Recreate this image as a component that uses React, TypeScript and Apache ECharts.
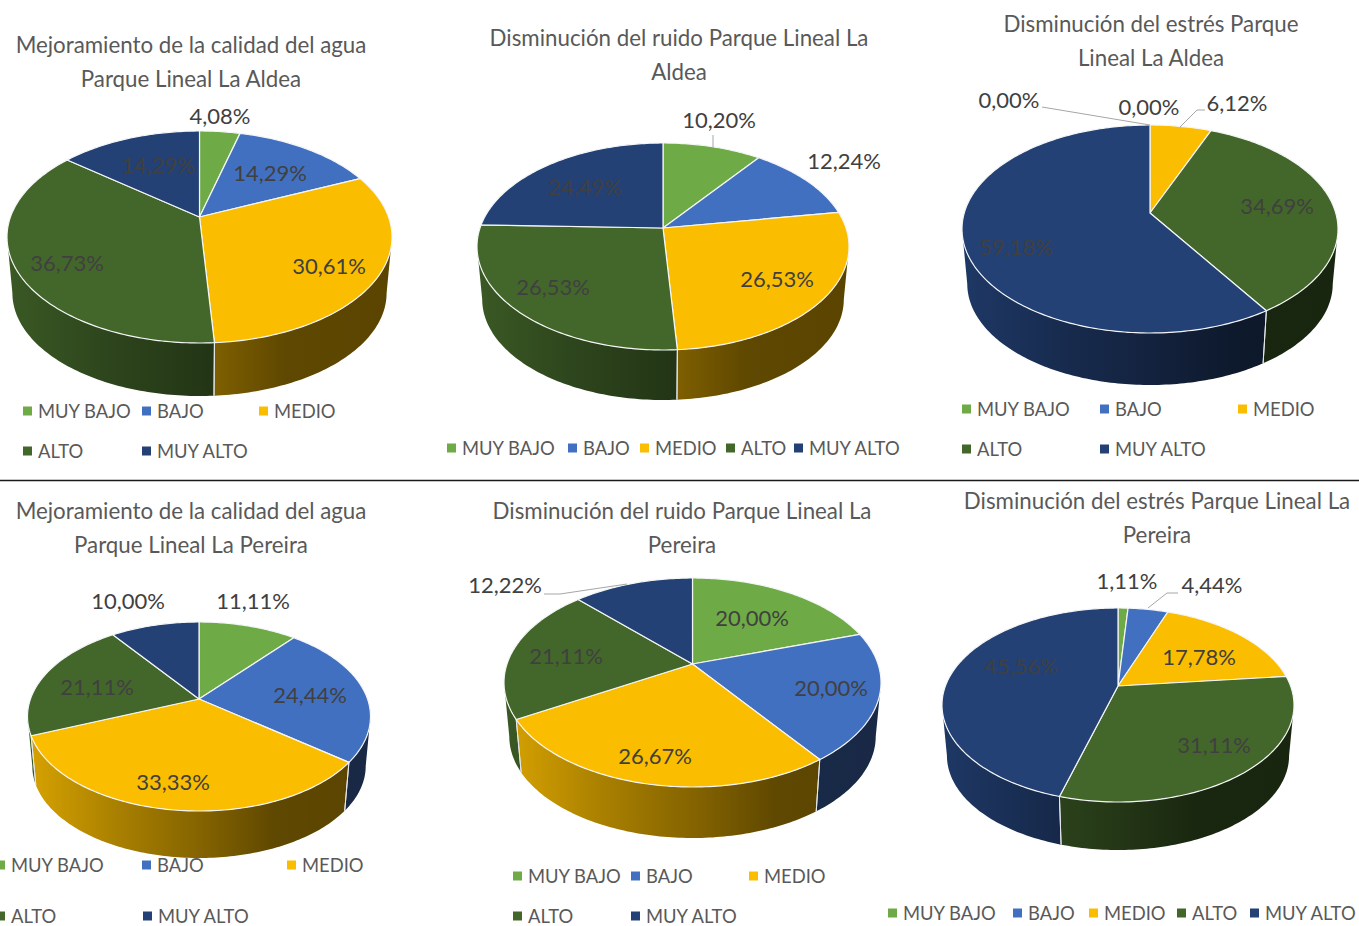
import React, { useEffect, useRef } from "react";
import * as echarts from "echarts";

// ---- data ----
const categories = ["MUY BAJO", "BAJO", "MEDIO", "ALTO", "MUY ALTO"];
const aguaAldea = [4.08, 14.29, 30.61, 36.73, 14.29];
const ruidoAldea = [10.2, 12.24, 26.53, 26.53, 24.49];
const estresAldea = [0, 0, 6.12, 34.69, 59.18];
const aguaPereira = [11.11, 24.44, 33.33, 21.11, 10.0];
const ruidoPereira = [20.0, 20.0, 26.67, 21.11, 12.22];
const estresPereira = [1.11, 4.44, 17.78, 31.11, 45.56];
const titles = [
  "Mejoramiento de la calidad del agua\nParque Lineal La Aldea",
  "Disminución del ruido Parque Lineal La\nAldea",
  "Disminución del estrés Parque\nLineal La Aldea",
  "Mejoramiento de la calidad del agua\nParque Lineal La Pereira",
  "Disminución del ruido Parque Lineal La\nPereira",
  "Disminución del estrés Parque Lineal La\nPereira",
];
const seriesValues = [aguaAldea, ruidoAldea, estresAldea, aguaPereira, ruidoPereira, estresPereira];

// ---- styles and layout ----
const COLORS = [[110, 171, 70], [66, 112, 192], [251, 189, 0], [67, 103, 42], [35, 65, 117]];
const FONT = "Lato";
const TITLE_SIZE = 22.3;
const LABEL_SIZE = 22;
const LEGEND_SIZE = 18.4;
const SHADE = [[0, 0.86], [0.25, 0.68], [0.5, 0.53], [0.72, 0.38], [1, 0.36]];

// projection box of each pie: centre, extents (left/right/top/bottom of the top face), wall height in front
const PIES = [
  { cx: 199.5, cy: 217, rx: 192.5, top: 131, bottom: 343, depth: 53 },
  { cx: 663, cy: 228, rx: 186, top: 143, bottom: 350, depth: 50 },
  { cx: 1150, cy: 213, rx: 188, top: 125, bottom: 333, depth: 52 },
  { cx: 199, cy: 699, rx: 171.5, top: 622, bottom: 811, depth: 47 },
  { cx: 692.5, cy: 664, rx: 188.5, top: 578, bottom: 787, depth: 51 },
  { cx: 1118, cy: 686, rx: 176, top: 608, bottom: 802, depth: 48 },
];
const TITLE_POS = [[191, 27], [679, 20], [1151, 6], [191, 493], [682, 493], [1157, 483]];
const LABEL_POS = [
  [[220, 115], [270, 172], [329, 265], [67, 262], [158, 164]],
  [[719, 119], [844, 160], [777, 278], [553, 286], [585, 186]],
  [[1009, 99], [1149, 106], [1237, 102], [1277, 205], [1016, 246]],
  [[253, 600], [310, 694], [173, 781], [97, 686], [128, 600]],
  [[752, 617], [831, 687], [655, 755], [566, 655], [505, 584]],
  [[1127, 580], [1212, 584], [1199, 656], [1214, 744], [1021, 665]],
];
const LEADERS: any = {
  "1-0": [[713, 135], [713, 148]],
  "2-0": [[1042, 107], [1150, 125]],
  "2-2": [[1205, 110], [1197, 110], [1180, 127]],
  "4-4": [[544, 594], [560, 594], [627, 584]],
  "5-1": [[1178, 593], [1167, 593], [1148, 608]],
};
const LEGEND_POS = [
  [[23, 411], [142, 411], [259, 411], [23, 451], [142, 451]],
  [[447, 448], [568, 448], [640, 448], [726, 448], [794, 448]],
  [[962, 409], [1100, 409], [1238, 409], [962, 449], [1100, 449]],
  [[-4, 865], [142, 865], [287, 865], [-4, 916], [143, 916]],
  [[513, 876], [631, 876], [749, 876], [513, 916], [631, 916]],
  [[888, 913], [1013, 913], [1089, 913], [1177, 913], [1250, 913]],
];

const rgb = (c: number[], f = 1) => `rgb(${c.map((v) => Math.round(v * f)).join(",")})`;
const fmt = (v: number) => v.toFixed(2).replace(".", ",") + "%";

function projector(p: any) {
  const up = p.cy - p.top;
  const down = p.bottom - p.cy;
  const k = (down - up) / (down + up);
  const a = up * (1 + k);
  const b = p.rx * Math.sqrt(1 - k * k);
  const s = 0.972;
  const lift = p.depth + (1 - s) * down;
  const top = (deg: number) => {
    const t = (deg * Math.PI) / 180;
    const w = 1 + k * Math.cos(t);
    return [p.cx + (b * Math.sin(t)) / w, p.cy - (a * Math.cos(t)) / w];
  };
  const low = (deg: number) => {
    const q = top(deg);
    return [p.cx + s * (q[0] - p.cx), p.cy + s * (q[1] - p.cy) + lift];
  };
  const edge = (Math.acos(-k) * 180) / Math.PI;
  return { top, low, edge };
}

function arc(from: number, to: number, fn: (d: number) => number[]) {
  const pts: number[][] = [];
  const n = Math.max(1, Math.ceil(Math.abs(to - from)));
  for (let i = 0; i <= n; i++) pts.push(fn(from + ((to - from) * i) / n));
  return pts;
}

function buildSeries() {
  const out: any[] = [];
  seriesValues.forEach((vals, ci) => {
    const total = vals.reduce((s, v) => s + v, 0);
    let cum = 0;
    vals.forEach((v, si) => {
      const start = cum;
      cum += v;
      const color = COLORS[si];
      const p = PIES[ci];
      const prj = projector(p);
      out.push({
        type: "custom",
        name: categories[si],
        coordinateSystem: "none",
        silent: true,
        itemStyle: { color: rgb(color) },
        data: [[start, v, total]],
        renderItem: (_: any, api: any) => {
          const s0 = (api.value(0) / api.value(2)) * 360;
          const s1 = ((api.value(0) + api.value(1)) / api.value(2)) * 360;
          const children: any[] = [];
          if (s1 > s0) {
            const from = Math.max(s0, prj.edge);
            const to = Math.min(s1, 360 - prj.edge);
            if (to > from) {
              const fill = new echarts.graphic.LinearGradient(
                p.cx - p.rx, 0, p.cx + p.rx, 0,
                SHADE.map(([o, f]) => ({ offset: o, color: rgb(color, f) })),
                true
              );
              children.push({
                type: "polygon",
                shape: { points: [...arc(from, to, prj.top), ...arc(to, from, prj.low)] },
                style: { fill },
              });
              [s0, s1].forEach((d) => {
                if (d >= prj.edge && d <= 360 - prj.edge) {
                  const a = prj.top(d);
                  const b = prj.low(d);
                  children.push({
                    type: "line",
                    z2: 5,
                    shape: { x1: a[0], y1: a[1], x2: b[0], y2: b[1] },
                    style: { stroke: "#e4e7ea", lineWidth: 1 },
                  });
                }
              });
            }
            children.push({
              type: "polygon",
              z2: 10,
              shape: { points: [[p.cx, p.cy], ...arc(s0, s1, prj.top)] },
              style: { fill: rgb(color), stroke: "#f4f5f6", lineWidth: 1.2, lineJoin: "round" },
            });
          }
          const leader = LEADERS[`${ci}-${si}`];
          if (leader) {
            children.push({
              type: "polyline",
              z2: 90,
              shape: { points: leader },
              style: { fill: "none", stroke: "#a6a6a6", lineWidth: 1 },
            });
          }
          const lp = LABEL_POS[ci][si];
          children.push({
            type: "text",
            z2: 100,
            x: lp[0],
            y: lp[1],
            style: {
              text: fmt(api.value(1)),
              fill: "#404040",
              fontSize: LABEL_SIZE,
              fontFamily: FONT,
              align: "center",
              verticalAlign: "middle",
            },
          });
          return { type: "group", children };
        },
      });
    });
  });
  return out;
}

function buildLegends() {
  const out: any[] = [];
  LEGEND_POS.forEach((row) =>
    row.forEach(([x, y], si) => {
      out.push({
        data: [categories[si]],
        left: x,
        top: y - 10,
        padding: 0,
        itemWidth: 9,
        itemHeight: 9,
        itemGap: 0,
        icon: "rect",
        selectedMode: false,
        textStyle: { fontFamily: FONT, fontSize: LEGEND_SIZE, color: "#595959", padding: [0, 0, 0, 1], lineHeight: 20 },
      });
    })
  );
  return out;
}

export default function App() {
  const ref = useRef<HTMLDivElement>(null);
  useEffect(() => {
    const chart = echarts.init(ref.current!, undefined, { renderer: "svg" });
    chart.setOption({
      animation: false,
      backgroundColor: "#ffffff",
      title: titles.map((text, i) => ({
        text,
        left: TITLE_POS[i][0],
        top: TITLE_POS[i][1],
        textAlign: "center",
        padding: 0,
        textStyle: { fontFamily: FONT, fontSize: TITLE_SIZE, fontWeight: "normal", color: "#595959", lineHeight: 34.5 },
      })),
      legend: buildLegends(),
      series: buildSeries(),
      graphic: [
        {
          type: "line",
          shape: { x1: 0, y1: 480.5, x2: 1359, y2: 480.5 },
          style: { stroke: "#1a1a1a", lineWidth: 1.5 },
        },
      ],
    });
    return () => chart.dispose();
  }, []);
  return <div ref={ref} style={{ position: "absolute", left: 0, top: 0, width: 1359, height: 926 }} />;
}
